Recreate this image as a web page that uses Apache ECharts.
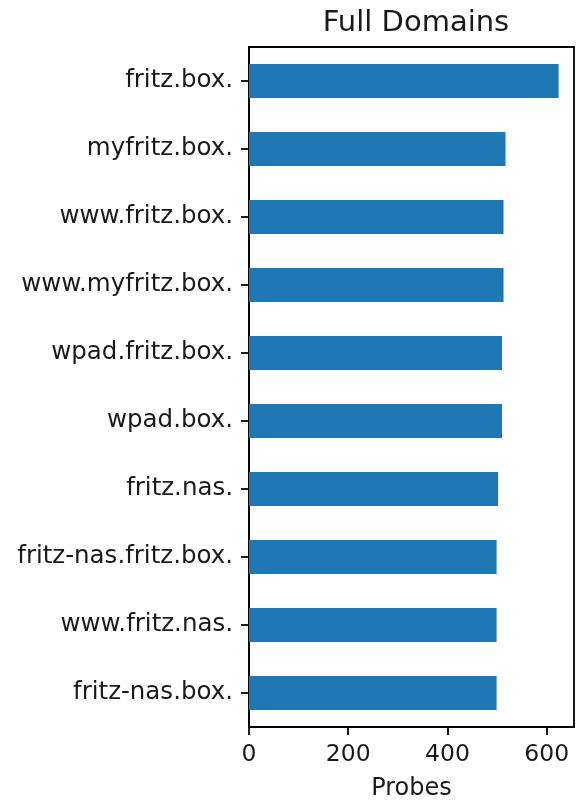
<!DOCTYPE html>
<html>
<head>
<meta charset="utf-8">
<script src="https://cdn.jsdelivr.net/npm/echarts@6/dist/echarts.min.js"></script>
<style>
  html, body { margin: 0; padding: 0; background: #fff; }
  #chart { width: 577px; height: 806px; }
</style>
</head>
<body>
<div id="chart"></div>
<script>
const domains = [
  'fritz.box.', 'myfritz.box.', 'www.fritz.box.', 'www.myfritz.box.', 'wpad.fritz.box.',
  'wpad.box.', 'fritz.nas.', 'fritz-nas.fritz.box.', 'www.fritz.nas.', 'fritz-nas.box.',
]
const probes = [624, 517, 513, 513, 510, 510, 502, 499, 499, 499]
const xTicks = [0, 200, 400, 600]

const font = 'DejaVu Sans'
const chart = echarts.init(document.getElementById('chart'))

chart.setOption({
  animation: false,
  textStyle: { fontFamily: font },
  title: {
    text: 'Full Domains',
    left: 411,
    top: 4,
    textAlign: 'center',
    textStyle: { fontFamily: font, fontSize: 29, fontWeight: 'normal', color: '#1a1a1a' },
  },
  grid: {
    left: 249,
    right: 3,
    top: 47,
    bottom: 76,
    show: true,
    borderColor: '#000',
    borderWidth: 1.8,
  },
  xAxis: {
    type: 'value',
    min: 0,
    max: 655,
    interval: 200,
    name: 'Probes',
    nameLocation: 'middle',
    nameGap: 50,
    nameTextStyle: { fontFamily: font, fontSize: 24, color: '#1a1a1a' },
    splitLine: { show: false },
    axisLine: { show: true, lineStyle: { color: '#000', width: 1.8 } },
    axisTick: { show: true, length: 8, customValues: xTicks, lineStyle: { color: '#000', width: 1.8 } },
    axisLabel: { customValues: xTicks, margin: 16, fontFamily: font, fontSize: 23.5, color: '#1a1a1a' },
  },
  yAxis: {
    type: 'category',
    inverse: true,
    data: domains,
    axisLine: { show: true, lineStyle: { color: '#000', width: 1.8 } },
    axisTick: { show: true, length: 8, alignWithLabel: true, lineStyle: { color: '#000', width: 1.8 } },
    axisLabel: { margin: 16, fontFamily: font, fontSize: 24.5, color: '#1a1a1a' },
  },
  series: [{
    type: 'bar',
    data: probes,
    barCategoryGap: '50%',
    itemStyle: { color: '#1f77b4' },
  }],
})
</script>
</body>
</html>
